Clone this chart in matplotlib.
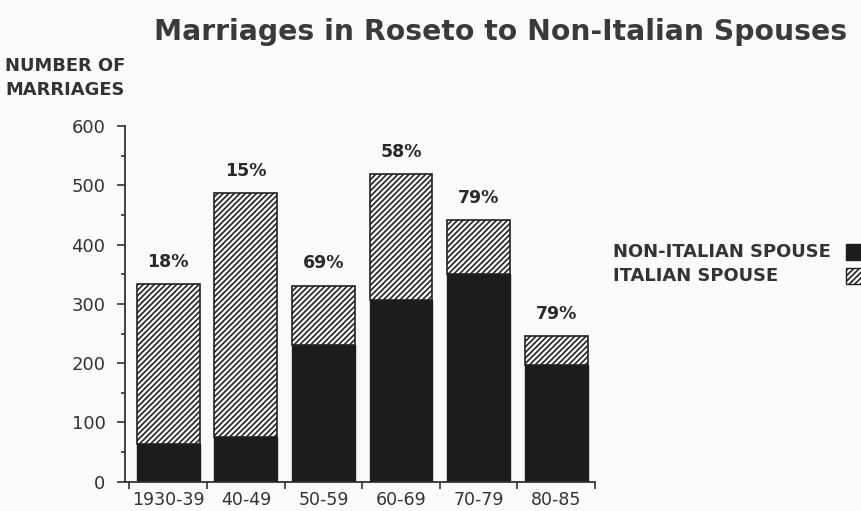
import matplotlib
matplotlib.use("Agg")
import matplotlib.pyplot as plt
from matplotlib.patches import Rectangle
from matplotlib.ticker import MultipleLocator
import numpy as np

categories = ["1930-39", "40-49", "50-59", "60-69", "70-79", "80-85"]
non_italian = [63, 76, 230, 306, 350, 197]
italian = [270, 411, 101, 213, 92, 49]
pct_labels = ["18%", "15%", "69%", "58%", "79%", "79%"]
yticks = [0, 100, 200, 300, 400, 500, 600]

plt.rcParams['hatch.linewidth'] = 1.2
plt.rcParams['hatch.color'] = '#222222'

fig = plt.figure(figsize=(8.61, 5.11), dpi=100)
fig.patch.set_facecolor('#fbfbfb')
ax = fig.add_axes([0.145, 0.0573, 0.546, 0.696])
ax.set_facecolor('none')

x = np.arange(len(categories))
w = 0.81
ax.bar(x, non_italian, width=w, color='#1c1c1c', edgecolor='#1c1c1c', linewidth=1)
ax.bar(x, italian, width=w, bottom=non_italian, color='white',
       edgecolor='#222222', hatch='//////', linewidth=1.2)

tot = np.array(non_italian) + np.array(italian)
for xi, t, lab in zip(x, tot, pct_labels):
    ax.text(xi, t + 22, lab, ha='center', va='bottom', fontsize=12.5,
            fontweight='bold', color='#2a2a2a')

ax.set_xlim(-0.56, 5.5)
ax.set_ylim(0, 600)
ax.set_yticks(yticks)
ax.yaxis.set_minor_locator(MultipleLocator(50))
ax.set_xticks(np.arange(-0.5, 6.0, 1.0))
ax.set_xticklabels([])
ax.set_xticks(x, minor=True)
ax.set_xticklabels(categories, minor=True)
ax.tick_params(axis='x', which='minor', length=0, pad=7, labelsize=12.5, labelcolor='#333333')
ax.tick_params(axis='x', which='major', length=5, width=1.2, direction='out', color='#333333')
ax.tick_params(axis='y', which='major', length=6, width=1.2, direction='out', pad=8,
               labelsize=13, labelcolor='#333333', color='#333333')
ax.tick_params(axis='y', which='minor', length=3, width=1.2, direction='out', color='#333333')
for s in ['top', 'right']:
    ax.spines[s].set_visible(False)
for s in ['left', 'bottom']:
    ax.spines[s].set_linewidth(1.3)
    ax.spines[s].set_color('#333333')

fig.text(0.581, 0.937, "Marriages in Roseto to Non-Italian Spouses", ha='center', va='center',
         fontsize=20.3, fontweight='bold', color='#3a3a3a')
fig.text(0.006, 0.848, "NUMBER OF\nMARRIAGES", ha='left', va='center', fontsize=12.9,
         fontweight='bold', color='#333333', linespacing=1.45)

fig.text(0.712, 0.507, "NON-ITALIAN SPOUSE", ha='left', va='center', fontsize=12.9,
         fontweight='bold', color='#333333')
fig.text(0.712, 0.459, "ITALIAN SPOUSE", ha='left', va='center', fontsize=12.9,
         fontweight='bold', color='#333333')
fig.patches.append(Rectangle((0.982, 0.492), 0.02, 0.031, transform=fig.transFigure,
                             facecolor='#1c1c1c', edgecolor='#1c1c1c'))
fig.patches.append(Rectangle((0.982, 0.445), 0.02, 0.031, transform=fig.transFigure,
                             facecolor='white', edgecolor='#222222', hatch='//////'))

fig.savefig("out.png", dpi=100, facecolor=fig.get_facecolor())
